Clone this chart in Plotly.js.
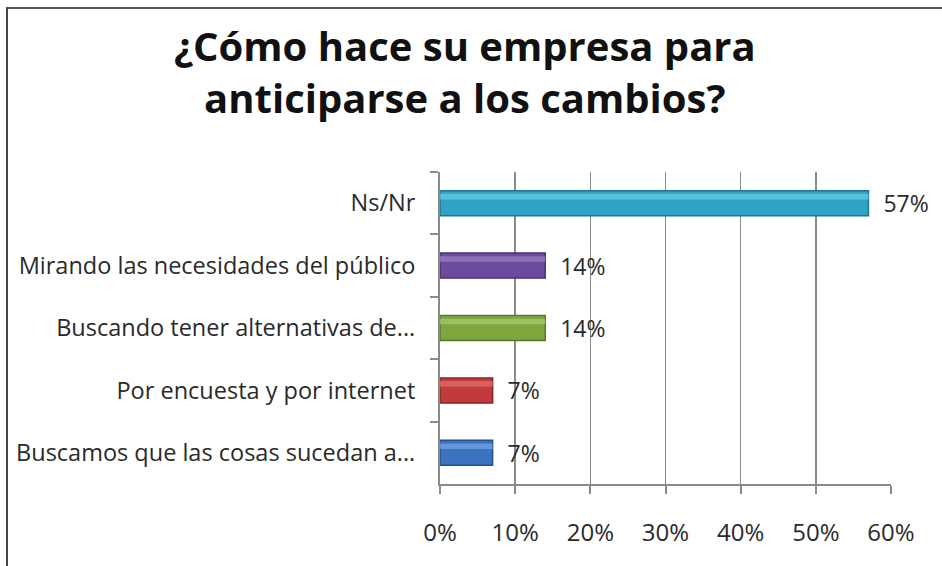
<!DOCTYPE html>
<html>
<head>
<meta charset="utf-8">
<script src="https://cdn.plot.ly/plotly-3.0.1.min.js"></script>
<style>
  html, body { margin: 0; padding: 0; background: #fff; }
  #wrap { position: relative; width: 942px; height: 566px; overflow: hidden; }
  #chart { width: 942px; height: 566px; }
  #frame { position: absolute; left: 6px; top: 7px; right: -10px; bottom: -10px;
           border-left: 2px solid #444; border-top: 2px solid #555; pointer-events: none; }
</style>
</head>
<body>
<div id="wrap"><div id="chart"></div><div id="frame"></div></div>
<script>
const categories = [
  "Ns/Nr",
  "Mirando las necesidades del público",
  "Buscando tener alternativas de...",
  "Por encuesta y por internet",
  "Buscamos que las cosas sucedan a..."
];
const values = [0.57, 0.14, 0.14, 0.07, 0.07];
const valueLabels = ["57%", "14%", "14%", "7%", "7%"];
const barColors = ["#2FA3C5", "#6B4C9E", "#7DA63F", "#C23A3A", "#3B72C2"];
const edgeColors = ["#1E7694", "#4A3272", "#587A2A", "#8A2424", "#25528E"];
const lightColors = ["#6FCBE3", "#9A80C4", "#A8CC70", "#E07070", "#7AA6E6"];
const xTicks = [0, 0.1, 0.2, 0.3, 0.4, 0.5, 0.6];
const xTickLabels = ["0%", "10%", "20%", "30%", "40%", "50%", "60%"];

const font = "'Open Sans', Lato, sans-serif";

const traces = [{
  type: "bar",
  orientation: "h",
  y: categories,
  x: values,
  width: 0.4,
  marker: { color: barColors, line: { color: edgeColors, width: 1.5 } },
  text: valueLabels,
  texttemplate: "  %{text}",
  textposition: "outside",
  constraintext: "none",
  textfont: { family: font, size: 23, color: "#2a2a2a" },
  cliponaxis: false,
  hoverinfo: "skip"
}, {
  type: "bar",
  orientation: "h",
  y: categories,
  x: values,
  width: 0.09,
  offset: -0.15,
  marker: { color: lightColors, opacity: 0.7, line: { width: 0 } },
  hoverinfo: "skip"
}];

const layout = {
  width: 942, height: 566,
  paper_bgcolor: "#ffffff", plot_bgcolor: "#ffffff",
  margin: { l: 440, r: 51, t: 172, b: 82 },
  barmode: "overlay",
  showlegend: false,
  annotations: [{
    text: "¿Cómo hace su empresa para<br>anticiparse a los cambios?",
    xref: "paper", yref: "paper",
    x: (465 - 440) / 451, y: (484 - 71) / 312,
    xanchor: "center", yanchor: "middle",
    showarrow: false,
    font: { family: font, size: 40, color: "#111", weight: "bold" }
  }],
  xaxis: {
    range: [0, 0.6],
    tickvals: xTicks, ticktext: xTickLabels,
    showgrid: true, gridcolor: "#8a8a8a", gridwidth: 1.5,
    zeroline: false,
    showline: true, linecolor: "#8a8a8a", linewidth: 2,
    ticks: "outside", ticklen: 8, tickcolor: "#8a8a8a", tickwidth: 2,
    ticklabelstandoff: 18,
    tickfont: { family: font, size: 24, color: "#2a2a2a" }
  },
  yaxis: {
    type: "category",
    categoryorder: "array", categoryarray: categories,
    autorange: "reversed",
    showgrid: false, zeroline: false,
    showline: true, linecolor: "#8a8a8a", linewidth: 2,
    ticks: "outside", tickson: "boundaries", ticklen: 8, tickcolor: "#8a8a8a", tickwidth: 2,
    ticklabelstandoff: 18,
    tickfont: { family: font, size: 23.5, color: "#2a2a2a" }
  }
};

Plotly.newPlot("chart", traces, layout, { displayModeBar: false, staticPlot: true });
</script>
</body>
</html>
